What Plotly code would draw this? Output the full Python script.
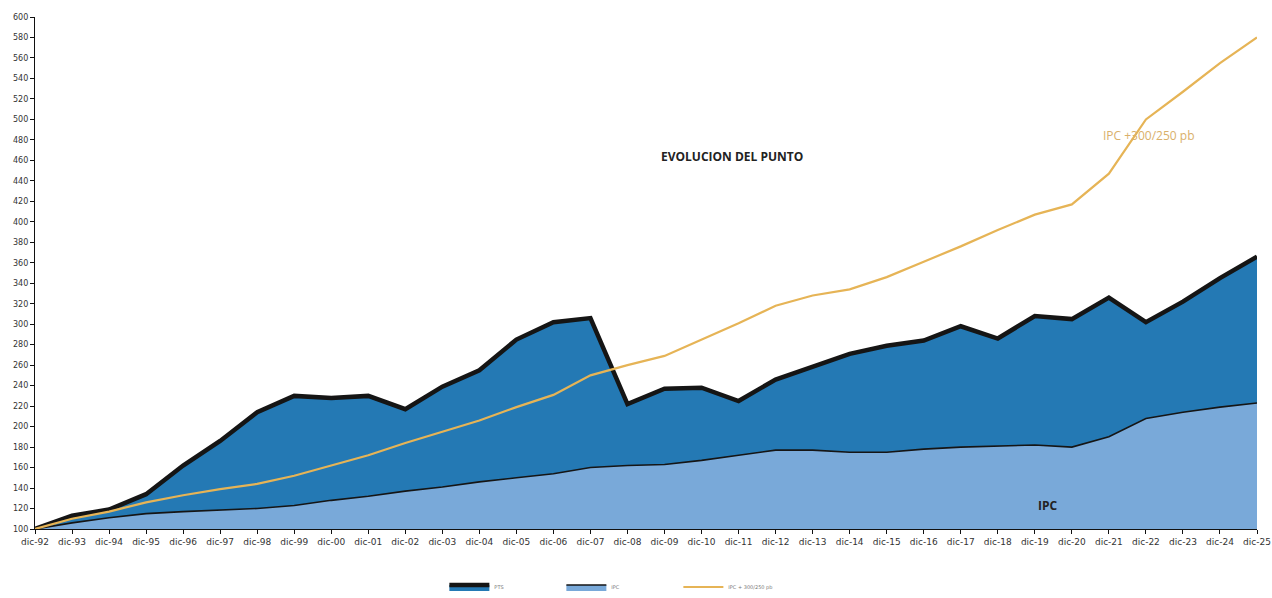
import plotly.graph_objects as go

years = ["dic-%02d" % (y % 100) for y in range(1992, 2026)]

pts = [100, 113, 119, 134, 162, 186, 214, 230, 228, 230, 217, 239, 255, 285, 302, 306,
       222, 237, 238, 225, 246, 258, 271, 279, 284, 298, 286, 308, 305, 326, 302, 322, 345, 366]
ipc = [100, 106, 111, 115, 117, 118.6, 120, 123, 128, 132, 137, 141, 146, 150, 154, 160,
       162, 163, 167, 172, 177, 177, 175, 175, 178, 180, 181, 182, 180, 190, 208, 214, 219, 223]
ipc_plus = [100, 110, 117, 126, 133, 139, 144, 152, 162, 172, 184, 195, 206, 219, 231, 250,
            260, 269, 285, 301, 318, 328, 334, 346, 361, 376, 392, 407, 417, 447, 500, 527, 555, 580]

yticks = list(range(100, 601, 20))

fig = go.Figure()
fig.add_trace(go.Scatter(x=years, y=pts, name="PTS", mode="lines", fill="tozeroy",
                         fillcolor="#2479b4", line=dict(color="#151515", width=4.5)))
fig.add_trace(go.Scatter(x=years, y=ipc, name="IPC", mode="lines", fill="tozeroy",
                         fillcolor="#79a9d9", line=dict(color="#151515", width=1.6)))
fig.add_trace(go.Scatter(x=years, y=ipc_plus, name="IPC + 300/250 pb", mode="lines",
                         line=dict(color="#e6b456", width=2.2)))

fig.update_layout(
    width=1272, height=598,
    margin=dict(l=35, r=15, t=17, b=69, autoexpand=False),
    paper_bgcolor="white", plot_bgcolor="white",
    font=dict(family="DejaVu Sans, Verdana", size=8, color="#333"),
    showlegend=True,
    legend=dict(orientation="h", x=0.335, xanchor="left", y=-0.085, yanchor="top",
                font=dict(size=5, color="#777"), itemwidth=40,
                entrywidth=62, entrywidthmode="pixels"),
    annotations=[
        dict(x=0.570, y=0.727, xref="paper", yref="paper", text="<b>EVOLUCION DEL PUNTO</b>",
             yanchor="middle", xanchor="center",
             showarrow=False, font=dict(size=12, color="#222", family="Open Sans, Liberation Sans")),
        dict(x=0.829, y=0.045, xref="paper", yref="paper", text="<b>IPC</b>",
             yanchor="middle", xanchor="center",
             showarrow=False, font=dict(size=12, color="#222", family="Open Sans, Liberation Sans")),
        dict(x=0.911, y=0.768, xref="paper", yref="paper", text="IPC +300/250 pb",
             yanchor="middle", xanchor="center",
             showarrow=False, font=dict(size=12, color="#d9b06a", family="Open Sans, Liberation Sans")),
    ],
)
fig.update_xaxes(type="category", range=[0, 33], showline=True, linecolor="#111", linewidth=1.2,
                 ticks="outside", ticklen=4, tickcolor="#111", showgrid=False,
                 tickangle=0, tickfont=dict(size=9))
fig.update_yaxes(range=[100, 600], tickvals=yticks, showline=True, linecolor="#111", linewidth=1.2,
                 ticks="outside", ticklen=4, tickcolor="#111", showgrid=False, zeroline=False,
                 tickfont=dict(size=8))

fig.write_html("out.html")
